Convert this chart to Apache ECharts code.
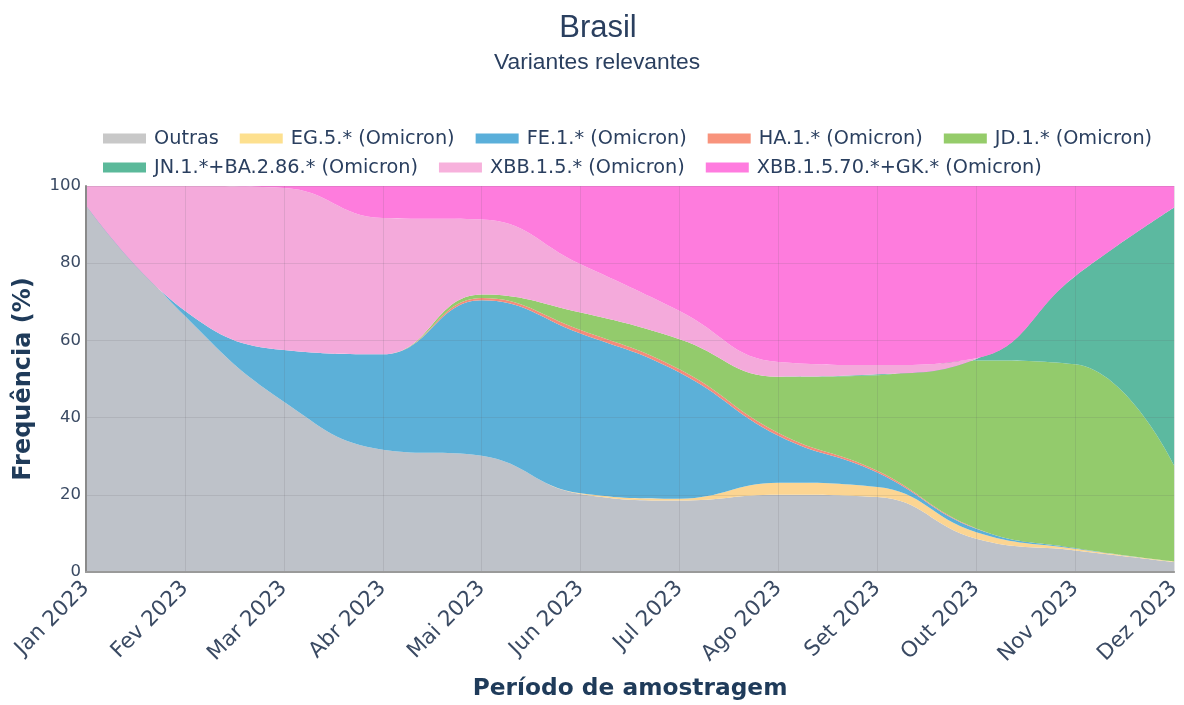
<!DOCTYPE html>
<html>
<head>
<meta charset="utf-8">
<script src="https://cdn.jsdelivr.net/npm/echarts@6/dist/echarts.min.js"></script>
<style>
html,body{margin:0;padding:0;background:#fff;}
#chart{width:1184px;height:705px;}
</style>
</head>
<body>
<div id="chart"></div>
<script>
const months = ['Jan 2023','Fev 2023','Mar 2023','Abr 2023','Mai 2023','Jun 2023','Jul 2023','Ago 2023','Set 2023','Out 2023','Nov 2023','Dez 2023'];
const yTicks = [0, 20, 40, 60, 80, 100];

const outras = [95.0, 66.3, 44.1, 31.7, 30.1, 20.2, 18.5, 20.0, 19.4, 8.6, 5.6, 2.6];
const eg5    = [0, 0, 0, 0, 0, 0.2, 0.5, 3.1, 2.6, 1.7, 0.4, 0.1];
const fe1    = [0, 1.4, 13.4, 24.7, 40.3, 41.4, 32.7, 12.2, 3.8, 0.9, 0.2, 0];
const ha1    = [0, 0, 0, 0, 0.6, 0.9, 0.8, 0.7, 0.4, 0.1, 0, 0];
const jd1    = [0, 0, 0, 0, 0.9, 4.5, 7.8, 14.6, 24.8, 43.5, 47.6, 24.9];
const jn1    = [0, 0, 0, 0, 0, 0, 0, 0, 0.2, 0.4, 22.8, 66.8];
const xbb15  = [5.0, 32.3, 42.0, 35.3, 19.4, 12.5, 7.3, 3.8, 2.4, 0.2, 0, 0];
const xbb70  = [0, 0, 0.5, 8.3, 8.7, 20.3, 32.4, 45.6, 46.4, 44.6, 23.4, 5.6];

const names = ['Outras','EG.5.* (Omicron)','FE.1.* (Omicron)','HA.1.* (Omicron)','JD.1.* (Omicron)',
               'JN.1.*+BA.2.86.* (Omicron)','XBB.1.5.* (Omicron)','XBB.1.5.70.*+GK.* (Omicron)'];
const values = [outras, eg5, fe1, ha1, jd1, jn1, xbb15, xbb70];
const fillColors = ['#bec2c9','#fcd592','#5cb0d8','#f48b7a','#93cb6c','#5cb9a0','#f4aadb','#fe7cdd'];
const legendColors = ['#c8c8c8','#fde08f','#5aafda','#f8937c','#95cc6a','#5bb99a','#f7b1dc','#ff7cdf'];

const navy = '#1f3b5a';
const tickColor = '#3a4a63';

const chart = echarts.init(document.getElementById('chart'), null, {renderer:'canvas'});

const legendCommon = {
  orient: 'horizontal',
  icon: 'rect',
  itemWidth: 43,
  itemHeight: 10,
  itemGap: 21,
  textStyle: {fontFamily: 'DejaVu Sans', fontSize: 19.3, color: '#2a3f5f', padding:[0,0,0,3]},
  selectedMode: false
};

chart.setOption({
  animation: false,
  backgroundColor: '#ffffff',
  title: [
    {
      text: 'Brasil',
      left: 593, top: 8, textAlign: 'center',
      textStyle: {fontFamily: 'Liberation Sans', fontSize: 31, fontWeight: 'normal', color: '#2a3f5f'}
    },
    {
      text: 'Variantes relevantes',
      left: 592, top: 46, textAlign: 'center',
      textStyle: {fontFamily: 'Liberation Sans', fontSize: 22.8, fontWeight: 'normal', color: '#2a3f5f'}
    }
  ],
  legend: [
    Object.assign({}, legendCommon, {left: 98, top: 124, data: names.slice(0,5)}),
    Object.assign({}, legendCommon, {left: 98, top: 153, data: names.slice(5)})
  ],
  grid: {left: 86, right: 6, top: 186, bottom: 131, containLabel: false},
  xAxis: {
    type: 'category',
    data: months,
    boundaryGap: false,
    z: 10,
    name: 'Período de amostragem',
    nameLocation: 'middle',
    nameGap: 105,
    nameTextStyle: {fontFamily: 'DejaVu Sans', fontWeight: 'bold', fontSize: 23.3, color: navy},
    axisLine: {show: true, lineStyle: {color: '#9a9a9a', width: 2}},
    axisTick: {show: false},
    axisLabel: {rotate: 45, margin: 13, fontFamily: 'DejaVu Sans', fontSize: 21.5, color: tickColor},
    splitLine: {show: true, lineStyle: {color: 'rgba(90,90,100,0.14)', width: 1}}
  },
  yAxis: {
    type: 'value',
    min: yTicks[0],
    max: yTicks[yTicks.length-1],
    interval: 20,
    z: 10,
    name: 'Frequência (%)',
    nameLocation: 'middle',
    nameGap: 50,
    nameTextStyle: {fontFamily: 'DejaVu Sans', fontWeight: 'bold', fontSize: 24, color: navy},
    axisLine: {show: true, lineStyle: {color: '#8a8a8a', width: 2}},
    axisTick: {show: false},
    axisLabel: {margin: 5, fontFamily: 'DejaVu Sans', fontSize: 16.5, color: tickColor},
    splitLine: {show: true, lineStyle: {color: 'rgba(90,90,100,0.14)', width: 1}}
  },
  series: names.map((n, i) => ({
    name: n,
    type: 'line',
    stack: 'total',
    data: values[i],
    smooth: 0.45,
    showSymbol: false,
    symbol: 'none',
    color: legendColors[i],
    lineStyle: {width: 0, color: fillColors[i]},
    areaStyle: {color: fillColors[i], opacity: 1},
    itemStyle: {color: legendColors[i]},
    z: 2
  }))
});
</script>
</body>
</html>
